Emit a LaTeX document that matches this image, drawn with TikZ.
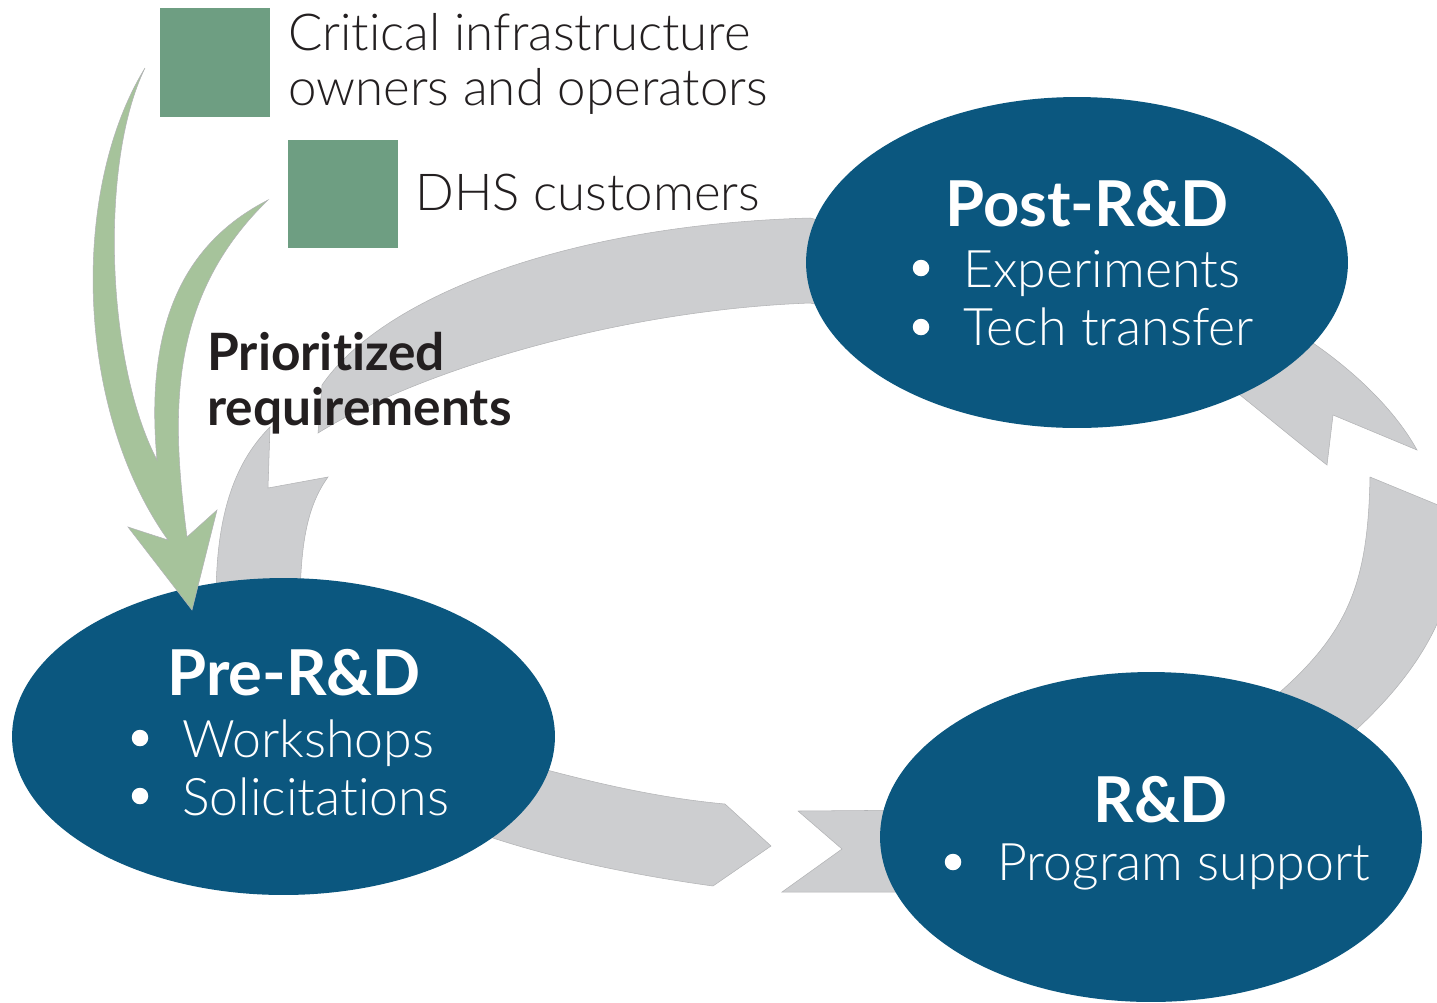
\documentclass[tikz,border=0pt]{standalone}
\usepackage{fontspec}
\setmainfont{Lato}[Ligatures={TeX,NoCommon}]
\IfFontExistsTF{Lato Light}{\newfontfamily\lightfont{Lato Light}[Ligatures={TeX,NoCommon}]}{\newfontfamily\lightfont{Lato}[Ligatures={TeX,NoCommon}]}
\usetikzlibrary{shapes.geometric}
\definecolor{ellblue}{RGB}{11,87,127}
\definecolor{ringgray}{RGB}{205,206,208}
\definecolor{ringedge}{RGB}{178,179,181}
\definecolor{arrowgreen}{RGB}{166,195,155}
\definecolor{sqgreen}{RGB}{110,158,130}
\definecolor{darktext}{RGB}{35,31,32}
\begin{document}
\begin{tikzpicture}[x=0.02cm,y=-0.02cm,
  ring/.style={fill=ringgray, draw=ringedge, line width=0.3pt},
  greenarrow/.style={fill=arrowgreen, draw=ringedge, line width=0.3pt},
  stage/.style={ellipse, fill=ellblue, inner sep=0pt},
  sq/.style={fill=sqgreen, inner sep=0pt, minimum width=2.2cm, minimum height=2.18cm},
  legendtext/.style={anchor=base west, inner sep=0pt, text=darktext, font=\lightfont\fontsize{29}{35}\selectfont},
  reqtext/.style={anchor=base west, inner sep=0pt, text=darktext, font=\bfseries\fontsize{29.3}{35}\selectfont},
  stagetitle/.style={anchor=base west, inner sep=0pt, text=white, font=\bfseries\fontsize{36}{43}\selectfont},
  stageitem/.style={anchor=base west, inner sep=0pt, text=white, font=\lightfont\fontsize{29.5}{35}\selectfont},
  bulletmark/.style={circle, fill=white, inner sep=0pt, minimum size=0.33cm}
]
\useasboundingbox (0,0) rectangle (1437,1002);
\clip (0,0) rectangle (1437,1002);

% gray cycle bands
\path[ring] (1417,450) -- (1333,415) -- (1327,465)
  .. controls (1295,440) and (1265,415) .. (1240,395)
  -- (810,303)
  .. controls (620,310) and (420,370) .. (318,433)
  -- (322,385)
  .. controls (380,300) and (560,225) .. (810,218)
  -- (1313,343)
  .. controls (1355,372) and (1395,410) .. (1417,450)
  -- cycle;
\path[ring] (1260,740) -- (1280,692)
  .. controls (1350,630) and (1368,580) .. (1370,477)
  -- (1455,512)
  .. controls (1465,600) and (1420,670) .. (1358,728)
  -- (1320,770) -- cycle;
\path[ring] (470,790) -- (547,770)
  .. controls (600,784) and (660,798) .. (725,804)
  -- (771,846) -- (713,886)
  .. controls (640,876) and (560,860) .. (493,838)
  -- (470,820) -- cycle;
\path[ring] (798,811) -- (842,849) -- (782,892) -- (930,892) -- (930,810) -- cycle;
\path[ring] (270,427) -- (268,488) -- (328,477)
  .. controls (308,505) and (301,540) .. (300,600)
  -- (260,640) -- (216,600)
  .. controls (216,520) and (232,465) .. (270,427)
  -- cycle;

% stages
\node[stage, minimum width=10.86cm, minimum height=6.34cm] (pre) at (283.5,736.5) {};
\node[stage, minimum width=10.84cm, minimum height=6.62cm] (post) at (1077,262.5) {};
\node[stage, minimum width=10.84cm, minimum height=6.6cm] (rd) at (1151,837) {};

% green arrows merging into one head
\path[greenarrow] (145,68)
  .. controls (70,190) and (75,410) .. (168,540)
  -- (128,527) -- (192,610) -- (217,510) -- (187,537)
  .. controls (172,420) and (165,300) .. (268,200)
  .. controls (180,245) and (145,330) .. (157,460)
  .. controls (105,360) and (100,160) .. (145,68)
  -- cycle;

% legend
\node[sq] (sq1) at (215,62.5) {};
\node[sq] (sq2) at (343,194) {};
\node[legendtext] (l1a) at (288,50) {Critical infrastructure};
\node[legendtext] (l1b) at (288,105) {owners and operators};
\node[legendtext] (l2) at (415,210) {DHS customers};

% requirement label
\node[reqtext] (r1) at (207,370) {Prioritized};
\node[reqtext] (r2) at (207,425) {requirements};

% stage texts
\node[stagetitle] (postt) at (945,226) {Post-R\&D};
\node[bulletmark] (postb1) at (921,268) {};
\node[stageitem] (posti1) at (963,287) {Experiments};
\node[bulletmark] (postb2) at (921,327) {};
\node[stageitem] (posti2) at (963,345) {Tech transfer};

\node[stagetitle] (pret) at (167,695) {Pre-R\&D};
\node[bulletmark] (preb1) at (140,738) {};
\node[stageitem] (prei1) at (182,757) {Workshops};
\node[bulletmark] (preb2) at (140,796) {};
\node[stageitem] (prei2) at (182,815) {Solicitations};

\node[stagetitle] (rdt) at (1093,822) {R\&D};
\node[bulletmark] (rdb1) at (953,862) {};
\node[stageitem] (rdi1) at (997,880) {Program support};
\end{tikzpicture}
\end{document}
